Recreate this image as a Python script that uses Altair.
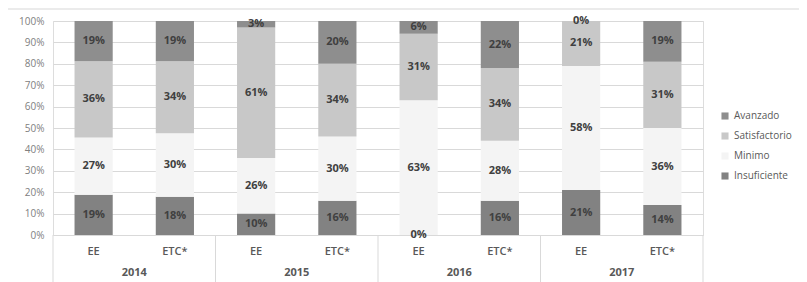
import altair as alt
import pandas as pd

years = ["2014", "2014", "2015", "2015", "2016", "2016", "2017", "2017"]
groups = ["EE", "ETC*", "EE", "ETC*", "EE", "ETC*", "EE", "ETC*"]
insuficiente = [19, 18, 10, 16, 0, 16, 21, 14]
minimo = [27, 30, 26, 30, 63, 28, 58, 36]
satisfactorio = [36, 34, 61, 34, 31, 34, 21, 31]
avanzado = [19, 19, 3, 20, 6, 22, 0, 19]

levels = ["Insuficiente", "Minimo", "Satisfactorio", "Avanzado"]
legend_order = ["Avanzado", "Satisfactorio", "Minimo", "Insuficiente"]
colors = ["#8e8e8e", "#c8c8c8", "#f4f4f4", "#828282"]
y_ticks = [0.0, 0.1, 0.2, 0.3, 0.4, 0.5, 0.6, 0.7, 0.8, 0.9, 1.0]

rows = []
for i in range(len(years)):
    for rank, (lvl, vals) in enumerate(zip(levels, [insuficiente, minimo, satisfactorio, avanzado])):
        rows.append({"year": years[i], "group": groups[i], "level": lvl,
                     "rank": rank, "value": vals[i]})
df = pd.DataFrame(rows)

W, H = 650, 214
FONT = "Open Sans"

base = alt.Chart(df)

x_axis = alt.Axis(labelPadding=31, ticks=False, tickSize=0,
                  domain=True, domainColor="#d9d9d9",
                  labelColor="#595959", labelFontSize=11,
                  labelFontWeight="bold", labelFont=FONT,
                  labelAngle=0, grid=False, title=None)
x_scale = alt.Scale(paddingInner=0, paddingOuter=0)
y_axis = alt.Axis(format=".0%", values=y_ticks, labelOverlap=False,
                  grid=True, gridColor="#d9d9d9", domain=False,
                  ticks=False, labelColor="#808080", labelFontSize=10,
                  labelFont=FONT, labelPadding=9, title=None)
y_scale = alt.Scale(domain=[0, 1], nice=False)
xo_enc = alt.XOffset("group:N", scale=alt.Scale(paddingInner=0.53, paddingOuter=0.265))

stacked = base.transform_stack(
    stack="value", groupby=["year", "group"], as_=["v0", "v1"],
    offset="normalize", sort=[alt.SortField("rank", order="ascending")]
).transform_calculate(
    mid="(datum.v0 + datum.v1) / 2",
    label="datum.value + '%'"
)

bars = stacked.mark_bar().encode(
    x=alt.X("year:N", scale=x_scale, axis=x_axis),
    xOffset=xo_enc,
    y=alt.Y("v0:Q", scale=y_scale, axis=y_axis),
    y2="v1:Q",
    color=alt.Color("level:N", title=None,
                    scale=alt.Scale(domain=legend_order, range=colors),
                    legend=alt.Legend(orient="none", legendX=667, legendY=90,
                                      symbolType="square", symbolSize=50,
                                      symbolStrokeWidth=0, labelOffset=4,
                                      labelFontSize=10, labelFont=FONT,
                                      labelColor="#595959", rowPadding=10)),
)

labels = stacked.mark_text(font=FONT, fontSize=11, fontWeight="bold",
                           color="#404040", baseline="middle").encode(
    x=alt.X("year:N", scale=x_scale, axis=x_axis),
    xOffset="group:N",
    y=alt.Y("mid:Q", scale=y_scale, axis=y_axis),
    text="label:N",
)

cat_labels = base.transform_filter("datum.rank == 0").mark_text(
    font=FONT, fontSize=11, color="#595959", baseline="middle", fontWeight=600
).encode(
    x=alt.X("year:N", scale=x_scale, axis=x_axis),
    xOffset="group:N",
    y=alt.value(H + 17),
    text="group:N",
)

sep_start = base.transform_filter("datum.rank == 0 && datum.group == 'EE'").mark_rule(
    color="#d9d9d9", strokeWidth=1, clip=False
).encode(
    x=alt.X("year:N", bandPosition=0, scale=x_scale, axis=x_axis),
    y=alt.value(H),
    y2=alt.value(H + 70),
)

sep_end = base.transform_filter("datum.rank == 0 && datum.group == 'EE' && datum.year == '2017'").mark_rule(
    color="#d9d9d9", strokeWidth=1, clip=False
).encode(
    x=alt.X("year:N", bandPosition=1, scale=x_scale, axis=x_axis),
    y=alt.value(H),
    y2=alt.value(H + 70),
)

frame_top = base.transform_filter("datum.rank == 0 && datum.year == '2014' && datum.group == 'EE'").mark_rule(
    color="#e4e4e4", strokeWidth=1.5, clip=False
).encode(
    x=alt.value(-46),
    x2=alt.value(W + 110),
    y=alt.value(-12),
)

frame_left = base.transform_filter("datum.rank == 0 && datum.year == '2014' && datum.group == 'EE'").mark_rule(
    color="#e4e4e4", strokeWidth=1.5, clip=False
).encode(
    x=alt.value(-46),
    y=alt.value(-12),
    y2=alt.value(H + 80),
)

chart = alt.layer(frame_top, frame_left, sep_start, sep_end, bars, labels, cat_labels).properties(
    width=W, height=H,
    autosize=alt.AutoSizeParams(type="none"),
    padding={"left": 45, "top": 13, "right": 96, "bottom": 60},
).configure_view(stroke=None).configure(background="white")

chart.save("out.html", embed_options={"renderer": "svg", "actions": False})
